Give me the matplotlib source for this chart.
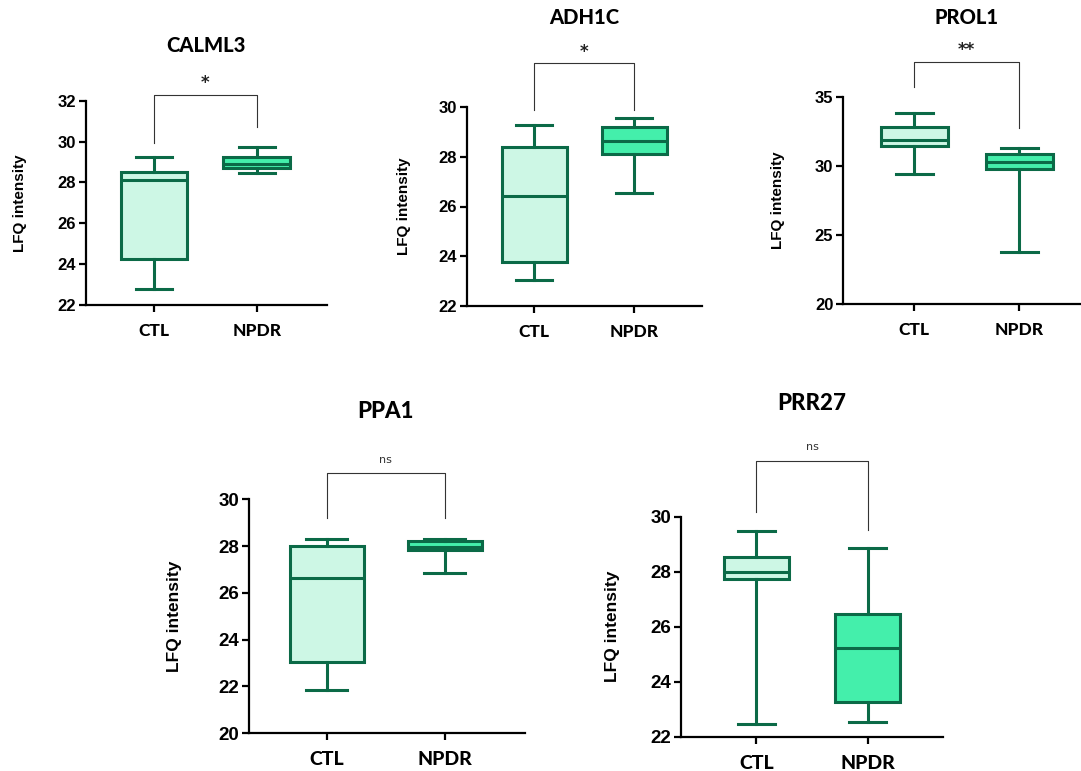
import matplotlib.pyplot as plt

# five-number summaries: [min, q1, median, q3, max]
genes = ['CALML3', 'ADH1C', 'PROL1', 'PPA1', 'PRR27']
groups = ['CTL', 'NPDR']
ctl = [
    [22.8, 24.23, 28.12, 28.53, 29.23],
    [23.04, 23.76, 26.44, 28.40, 29.26],
    [29.4, 31.43, 31.87, 32.83, 33.84],
    [21.85, 23.03, 26.62, 28.0, 28.29],
    [22.48, 27.72, 28.0, 28.52, 29.49],
]
npdr = [
    [28.44, 28.69, 28.88, 29.23, 29.72],
    [26.53, 28.10, 28.64, 29.18, 29.56],
    [23.77, 29.75, 30.26, 30.83, 31.26],
    [26.83, 27.82, 27.98, 28.22, 28.3],
    [22.55, 23.25, 25.21, 26.45, 28.87],
]
signif = ['*', '*', '**', 'ns', 'ns']
ylims = [(22, 32), (22, 30), (20, 35), (20, 30), (22, 30)]
yticks = [[22, 24, 26, 28, 30, 32], [22, 24, 26, 28, 30], [20, 25, 30, 35],
          [20, 22, 24, 26, 28, 30], [22, 24, 26, 28, 30]]

# layout (pixels in a 1081x771 canvas)
W, H = 1081, 771
axes_px = [(86, 327, 100.7, 305), (467, 702, 107, 306), (843, 1081, 96.7, 304),
           (249, 525, 499.3, 733.3), (681, 943, 516.7, 736.7)]
xlims = [(-0.66, 1.68), (-0.67, 1.68), (-0.68, 1.59), (-0.66, 1.68), (-0.68, 1.68)]
box_w = [0.65, 0.65, 0.64, 0.63, 0.59]
bracket = [(32.28, 29.93, 30.71, 32.87), (31.77, 29.88, 29.88, 32.2),
           (37.51, 35.7, 32.73, 38.4), (31.12, 29.2, 29.2, 31.68),
           (32.03, 30.17, 29.52, 32.54)]
title_y = [45, 17, 17, 412, 403]
ylab_x = [20, 404, 778, 175, 613]
fs = [11, 11, 11, 12.5, 12.5]

edge = '#0b6a47'
fills = ['#cdf7e5', '#44efab']

fig = plt.figure(figsize=(W / 100, H / 100), dpi=100)

for i, g in enumerate(genes):
    x0, x1, yt, yb = axes_px[i]
    ax = fig.add_axes([x0 / W, 1 - yb / H, (x1 - x0) / W, (yb - yt) / H])
    stats = []
    for arr, name in ((ctl[i], 'CTL'), (npdr[i], 'NPDR')):
        stats.append(dict(whislo=arr[0], q1=arr[1], med=arr[2], q3=arr[3],
                          whishi=arr[4], fliers=[], label=name))
    bp = ax.bxp(stats, positions=[0, 1], widths=box_w[i], patch_artist=True,
                showfliers=False, capwidths=box_w[i] * 0.55,
                boxprops=dict(edgecolor=edge, linewidth=2.2),
                medianprops=dict(color=edge, linewidth=2.2),
                whiskerprops=dict(color=edge, linewidth=2.2),
                capprops=dict(color=edge, linewidth=2.2))
    for patch, c in zip(bp['boxes'], fills):
        patch.set_facecolor(c)

    ax.set_xlim(*xlims[i])
    ax.set_ylim(*ylims[i])
    ax.set_yticks(yticks[i])
    ax.set_xticks([0, 1])
    ax.set_xticklabels(groups, fontsize=fs[i] + 1.5, fontweight='black', family='Lato')
    for lab in ax.get_yticklabels():
        lab.set_fontsize(fs[i] + 1)
        lab.set_fontweight('bold')
        lab.set_family('Liberation Sans')
    ax.spines['top'].set_visible(False)
    ax.spines['right'].set_visible(False)
    ax.spines['left'].set_linewidth(1.6)
    ax.spines['bottom'].set_linewidth(1.6)
    ax.tick_params(axis='both', width=1.6, length=5, color='black', pad=2)
    ax.tick_params(axis='x', pad=8)

    # significance bracket
    top, l_end, r_end, txt_y = bracket[i]
    ax.plot([0, 0, 1, 1], [l_end, top, top, r_end], color='#333333', lw=0.8, clip_on=False)
    if signif[i] == 'ns':
        ax.text(0.5, txt_y, 'ns', ha='center', va='center', fontsize=8, color='#333333')
    else:
        ax.text(0.5, txt_y, signif[i], ha='center', va='center', fontsize=12,
                fontweight='bold', color='#222222')

    # title over the two groups, y-axis label
    cx = x0 + (0 - xlims[i][0]) / (xlims[i][1] - xlims[i][0]) * (x1 - x0)
    cx2 = x0 + (1 - xlims[i][0]) / (xlims[i][1] - xlims[i][0]) * (x1 - x0)
    fig.text((cx + cx2) / 2 / W, 1 - title_y[i] / H, g, ha='center', va='center',
             fontsize=fs[i] + 3.5, fontweight='black', family='Lato')
    fig.text(ylab_x[i] / W, 1 - (yt + yb) / 2 / H, 'LFQ intensity', rotation=90,
             ha='center', va='center', fontsize=fs[i], fontweight='bold',
             family='Liberation Sans')

fig.savefig('out.png', dpi=100, facecolor='white')
